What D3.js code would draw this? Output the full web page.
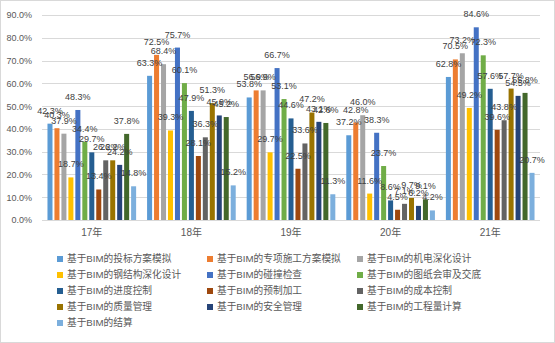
<!DOCTYPE html>
<html><head><meta charset="utf-8">
<script src="https://cdn.jsdelivr.net/npm/d3@7"></script>
<style>body{margin:0;background:#fff}svg{display:block}</style>
</head><body>
<svg id="c" width="555" height="343"></svg>
<script>
const categories = ["17年","18年","19年","20年","21年"];
const seriesNames = ["基于BIM的投标方案模拟","基于BIM的专项施工方案模拟","基于BIM的机电深化设计","基于BIM的钢结构深化设计","基于BIM的碰撞检查","基于BIM的图纸会审及交底","基于BIM的进度控制","基于BIM的预制加工","基于BIM的成本控制","基于BIM的质量管理","基于BIM的安全管理","基于BIM的工程量计算","基于BIM的结算"];
const colors = ["#5B9BD5","#ED7D31","#A5A5A5","#FFC000","#4472C4","#70AD47","#255E91","#9E480E","#636363","#997300","#264478","#43682B","#7CAFDD"];
const v17 = [42.3,40.3,37.9,18.7,48.3,34.4,29.7,13.4,26.2,26.2,24.2,37.8,14.8];
const v18 = [63.3,72.5,68.4,39.3,75.7,60.1,47.9,28.1,36.3,51.3,45.9,45.2,15.2];
const v19 = [53.8,56.9,56.9,29.7,66.7,53.1,44.6,22.5,33.6,47.2,43.1,42.6,11.3];
const v20 = [37.2,42.8,46.0,11.6,38.3,23.7,8.6,4.5,7.1,9.7,6.2,9.1,4.2];
const v21 = [62.8,70.5,73.2,49.2,84.6,72.3,57.6,39.6,43.8,57.7,54.5,55.8,20.7];
const yTicks = [0,10,20,30,40,50,60,70,80,90];

const values = [v17,v18,v19,v20,v21];
const svg = d3.select("#c");
const font = "'Liberation Sans', Arial, 'Noto Sans CJK SC', sans-serif";
svg.append("rect").attr("x",0.5).attr("y",0.5).attr("width",554).attr("height",342)
  .attr("fill","#fff").attr("stroke","#D9D9D9");

const L=42, R=540, T=15, B=220;
const x0 = d3.scaleBand().domain(categories).range([L,R]).paddingInner(0.11).paddingOuter(0.055);
const x1 = d3.scaleBand().domain(d3.range(seriesNames.length)).range([0,x0.bandwidth()]).paddingInner(0.28);
const y = d3.scaleLinear().domain([0,90]).range([B,T]);

// grid
svg.append("g").selectAll("line").data(yTicks.slice(1)).join("line")
  .attr("x1",L).attr("x2",R).attr("y1",d=>Math.round(y(d))+0.5).attr("y2",d=>Math.round(y(d))+0.5)
  .attr("stroke","#D9D9D9").attr("stroke-width",1);

// y axis labels
const ya = svg.append("g").attr("transform",`translate(${L-7},0)`)
  .call(d3.axisLeft(y).tickValues(yTicks).tickSize(0).tickFormat(d=>d.toFixed(1)+"%"));
ya.select(".domain").remove();
ya.selectAll("text").attr("font-family",font).attr("font-size",9).attr("fill","#595959");

// bars
const groups = svg.append("g").selectAll("g").data(categories).join("g")
  .attr("transform",d=>`translate(${x0(d)},0)`);
groups.selectAll("rect").data((d,i)=>values[i].map((v,j)=>({v,j}))).join("rect")
  .attr("x",d=>x1(d.j)).attr("width",x1.bandwidth())
  .attr("y",d=>y(d.v)).attr("height",d=>B-y(d.v)).attr("fill",d=>colors[d.j]);

// x axis
svg.append("line").attr("x1",L).attr("x2",R).attr("y1",B+0.5).attr("y2",B+0.5).attr("stroke","#D9D9D9");
const xa = svg.append("g").attr("transform",`translate(0,${B})`)
  .call(d3.axisBottom(x0).tickSize(0).tickPadding(9));
xa.select(".domain").remove();
xa.selectAll("text").attr("font-family",font).attr("font-size",10).attr("fill","#595959");

// labels
groups.selectAll("text").data((d,i)=>values[i].map((v,j)=>({v,j}))).join("text")
  .attr("x",d=>x1(d.j)+x1.bandwidth()/2).attr("y",d=>y(d.v)-10)
  .attr("text-anchor","middle").attr("font-family",font).attr("font-size",9).attr("fill","#404040")
  .text(d=>d.v.toFixed(1)+"%");

// legend
const colX=[57,207,357];
const lg = svg.append("g").selectAll("g").data(seriesNames).join("g")
  .attr("transform",(d,i)=>`translate(${colX[i%3]},${259+Math.floor(i/3)*16})`);
lg.append("rect").attr("x",0).attr("y",-3).attr("width",6).attr("height",6).attr("fill",(d,i)=>colors[i]);
lg.append("text").attr("x",10).attr("y",0).attr("dy","0.35em").attr("font-family",font)
  .attr("font-size",9.7).attr("fill","#595959").text(d=>d);
</script>
</body></html>
